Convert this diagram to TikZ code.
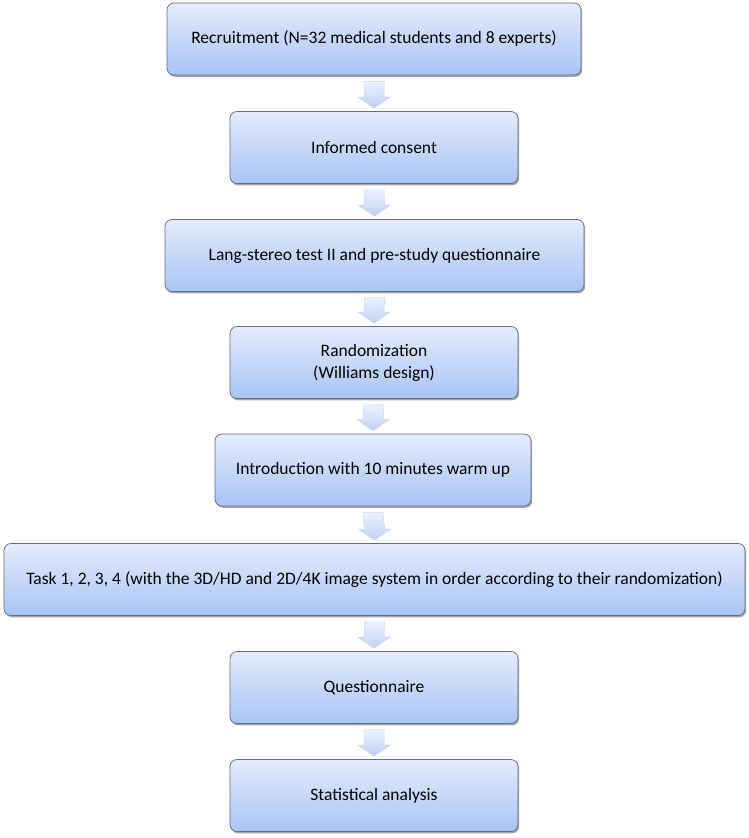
\documentclass[tikz,border=0pt]{standalone}
\usepackage{fontspec}
\setmainfont{Carlito}
\usetikzlibrary{shadows,calc}
\definecolor{boxtop}{RGB}{228,236,252}
\definecolor{boxbot}{RGB}{168,196,246}
\definecolor{boxline}{RGB}{105,108,118}
\definecolor{arrtop}{RGB}{236,242,253}
\definecolor{arrbot}{RGB}{190,210,245}
\definecolor{arrline}{RGB}{200,214,240}
\tikzset{
  stepbox/.style={draw=boxline, line width=0.7pt, rounded corners=7pt,
    top color=boxtop, bottom color=boxbot, minimum height=72pt, inner sep=0pt,
    align=center, font=\fontsize{17.5}{22}\selectfont,
    drop shadow={shadow xshift=1.2pt, shadow yshift=-1.8pt, opacity=0.35, fill=black}},
  flowarrow/.style={top color=arrtop, bottom color=arrbot, draw=arrline, line width=0.5pt}
}
\newcommand{\blockarrow}[2]{%
  \path[flowarrow] ($(#1.south)+(-10,6)$) -- ($(#1.south)+(10,6)$)
    -- ($(#2.north)+(10,-14)$) -- ($(#2.north)+(16,-14)$)
    -- ($(#2.north)+(0,-3)$) -- ($(#2.north)+(-16,-14)$)
    -- ($(#2.north)+(-10,-14)$) -- cycle;}
\begin{document}
\begin{tikzpicture}[x=1pt,y=-1pt]
\useasboundingbox[fill=white] (0,0) rectangle (749,838);
\node[stepbox, minimum width=414pt] (rec) at (374,39) {Recruitment (N=32 medical students and 8 experts)};
\node[stepbox, minimum width=288pt] (inf) at (374,147.5) {Informed consent};
\node[stepbox, minimum width=419pt] (lang) at (374.5,255.5) {Lang-stereo test II and pre-study questionnaire};
\node[stepbox, minimum width=288pt] (rand) at (374,362.5) {Randomization\\(Williams design)};
\node[stepbox, minimum width=316pt] (intro) at (373,470) {Introduction with 10 minutes warm up};
\node[stepbox, minimum width=741pt] (task) at (374.5,579.5) {Task 1, 2, 3, 4 (with the 3D/HD and 2D/4K image system in order according to their randomization)};
\node[stepbox, minimum width=288pt] (quest) at (374,687.5) {Questionnaire};
\node[stepbox, minimum width=288pt] (stat) at (374,795.5) {Statistical analysis};
\blockarrow{rec}{inf}
\blockarrow{inf}{lang}
\blockarrow{lang}{rand}
\blockarrow{rand}{intro}
\blockarrow{intro}{task}
\blockarrow{task}{quest}
\blockarrow{quest}{stat}
\end{tikzpicture}
\end{document}
